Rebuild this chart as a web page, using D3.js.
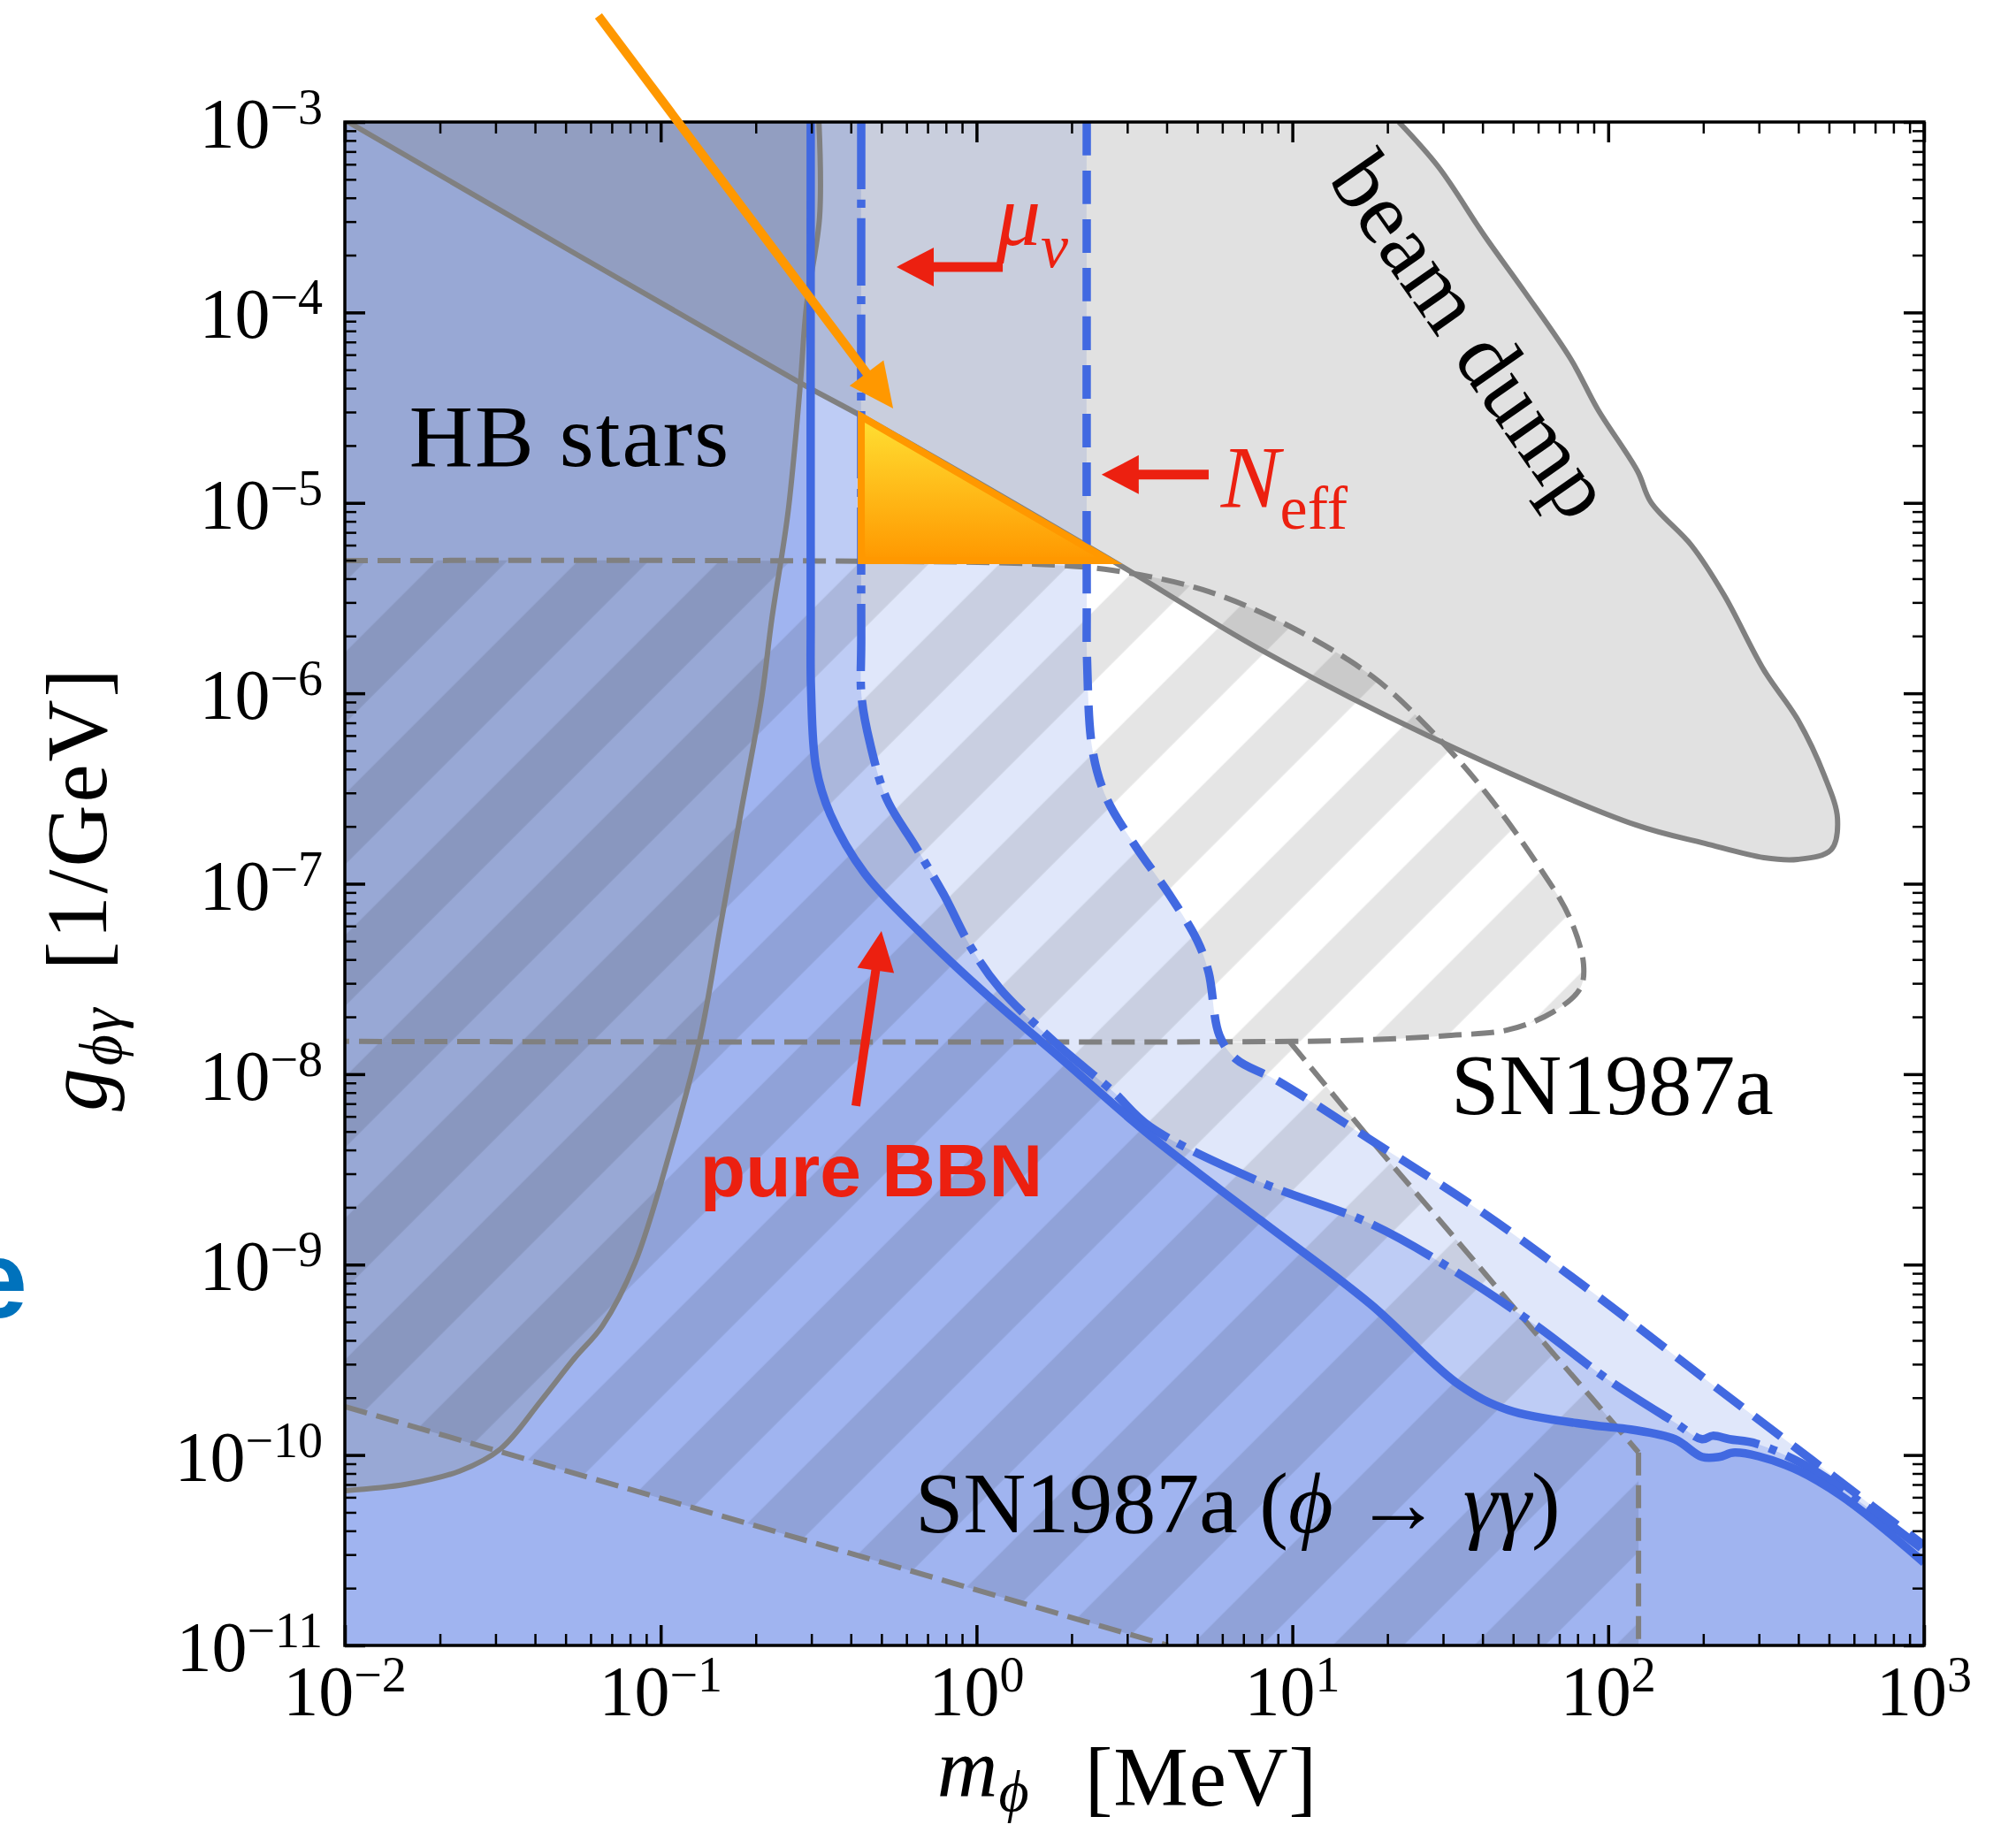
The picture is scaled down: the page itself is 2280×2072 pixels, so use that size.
<!DOCTYPE html>
<html>
<head>
<meta charset="utf-8">
<script src="https://cdn.jsdelivr.net/npm/d3@7"></script>
<style>
  body { margin: 0; background: #fff; }
  svg { display: block; }
  text { font-family: "Liberation Serif", "Times New Roman", serif; }
</style>
</head>
<body>
<svg id="chart" width="2280" height="2072"></svg>
<script>
// all curves are [log10(m / MeV), log10(g / GeV^-1)]
var bbnPure = [[-0.525,-3.0],[-0.525,-5.6],[-0.524,-5.976],[-0.508,-6.389],[-0.463,-6.635],[-0.354,-6.946],[-0.177,-7.257],
  [0.038,-7.591],[0.270,-7.921],[0.548,-8.320],[0.898,-8.766],[1.247,-9.207],[1.527,-9.630],[1.684,-9.764],
  [1.947,-9.843],[2.071,-9.866],[2.211,-9.917],[2.297,-10.010],[2.351,-10.010],[2.401,-9.987],[2.561,-10.052],
  [2.734,-10.210],[3.0,-10.565]];
var bbnMuNu = [[-0.365,-3.0],[-0.365,-5.7],[-0.364,-6.018],[-0.337,-6.264],[-0.284,-6.556],[-0.194,-6.802],[-0.105,-7.053],
  [-0.015,-7.341],[0.074,-7.550],[0.251,-7.837],[0.430,-8.088],[0.548,-8.274],[0.898,-8.566],[1.247,-8.785],
  [1.511,-9.031],[1.771,-9.319],[2.001,-9.606],[2.211,-9.829],[2.297,-9.917],[2.331,-9.899],[2.384,-9.917],
  [2.471,-9.941],[2.647,-10.075],[2.821,-10.275],[3.0,-10.50]];
var bbnNeff = [[0.349,-3.0],[0.349,-5.5],[0.350,-5.827],[0.368,-6.306],[0.413,-6.556],[0.503,-6.802],[0.609,-7.053],
  [0.699,-7.299],[0.735,-7.466],[0.769,-7.796],[0.822,-7.921],[0.951,-8.033],[1.247,-8.344],[1.597,-8.720],
  [1.947,-9.142],[2.297,-9.588],[2.647,-10.029],[3.0,-10.475]];
var beamDump = [[-2.0,-2.99],[-0.558,-4.370],[-0.362,-4.546],[0.419,-5.293],[0.895,-5.767],[1.429,-6.222],
  [2.087,-6.691],[2.306,-6.788],[2.493,-6.863],[2.600,-6.872],[2.706,-6.821],[2.726,-6.658],[2.684,-6.431],
  [2.600,-6.138],[2.493,-5.878],[2.367,-5.484],[2.264,-5.224],[2.135,-4.996],[2.093,-4.834],[1.967,-4.509],
  [1.883,-4.249],[1.735,-3.891],[1.609,-3.599],[1.463,-3.237],[1.337,-3.0]];
var hbStars = [[-0.499,-3.0],[-0.497,-3.501],[-0.539,-3.975],[-0.558,-4.379],[-0.597,-5.052],[-0.648,-5.609],
  [-0.681,-6.032],[-0.746,-6.626],[-0.810,-7.215],[-0.875,-7.810],[-0.970,-8.404],[-1.082,-8.994],
  [-1.185,-9.323],[-1.272,-9.490],[-1.378,-9.713],[-1.507,-9.968],[-1.636,-10.084],[-1.807,-10.154],[-2.0,-10.187]];
var snCooling = [[-2.0,-5.303],[-0.5,-5.305],[0.181,-5.321],[0.430,-5.354],[0.716,-5.456],[0.984,-5.642],
  [1.253,-5.911],[1.430,-6.180],[1.609,-6.514],[1.788,-6.928],[1.877,-7.174],[1.922,-7.424],[1.911,-7.550],
  [1.824,-7.675],[1.681,-7.768],[1.502,-7.796],[1.250,-7.819],[1.001,-7.828],[-2.0,-7.828]];
var snDecayEdge = [[0.993,-7.833],[1.248,-8.344],[1.511,-8.854],[1.737,-9.295],[1.947,-9.699],[2.096,-9.987]];
var snDecayCut = [[2.096,-9.987],[2.096,-11.0]];
var snDecayLow = [[-2.0,-9.746],[0.606,-11.0]];
var hotSpot = [[-0.365,-4.546],[0.42,-5.303],[-0.365,-5.303]];

var xTicks = [-2, -1, 0, 1, 2, 3];
var yTicks = [-3, -4, -5, -6, -7, -8, -9, -10, -11];

var pL = 390, pR = 2176, pT = 138, pB = 1861;
var BLUE = '#4169e1', GREY = '#808080', RED = '#ec2010', ORANGE = '#ff9800';
var SANS = '"Liberation Sans", Arial, sans-serif';

var svg = d3.select('#chart');
var x = d3.scaleLog().domain([1e-2, 1e3]).range([pL, pR]);
var y = d3.scaleLog().domain([1e-11, 1e-3]).range([pB, pT]);
var px = function(d){ return x(Math.pow(10, d[0])); };
var py = function(d){ return y(Math.pow(10, d[1])); };

var smooth = d3.line().x(px).y(py).curve(d3.curveCatmullRom.alpha(0.5));
var straight = d3.line().x(px).y(py);
var corners = function(list){
  return list.map(function(c){ return 'L' + px(c) + ',' + py(c); }).join('');
};

var defs = svg.append('defs');
defs.append('clipPath').attr('id', 'plotclip')
  .append('rect').attr('x', pL).attr('y', pT).attr('width', pR - pL).attr('height', pB - pT);

var pat = defs.append('pattern').attr('id', 'hatch')
  .attr('patternUnits', 'userSpaceOnUse')
  .attr('width', 113.14).attr('height', 113.14)
  .attr('patternTransform', 'rotate(45)');
pat.append('rect').attr('x', 5.7).attr('y', 0).attr('width', 56.57).attr('height', 113.14)
  .attr('fill', '#000').attr('fill-opacity', 0.1);

var grad = defs.append('linearGradient').attr('id', 'hot')
  .attr('gradientUnits', 'userSpaceOnUse')
  .attr('x1', 0).attr('x2', 0).attr('y1', py(hotSpot[0])).attr('y2', py(hotSpot[2]));
grad.append('stop').attr('offset', '0%').attr('stop-color', '#ffe033');
grad.append('stop').attr('offset', '100%').attr('stop-color', '#ff9800');

var plot = svg.append('g').attr('clip-path', 'url(#plotclip)');

// blue BBN regions, stacked
var lowerLeft = [[3.2, -11.2], [-2.2, -11.2], [-2.2, -3]];
[[bbnNeff, 0.16], [bbnMuNu, 0.21], [bbnPure, 0.24]].forEach(function(r){
  plot.append('path')
    .attr('d', smooth(r[0]) + corners([[3.2, r[0][r[0].length - 1][1] - 0.05]].concat(lowerLeft)) + 'Z')
    .attr('fill', BLUE).attr('fill-opacity', r[1]);
});

// beam dump and HB stars
plot.append('path').attr('d', smooth(beamDump) + corners([[1.337, -2.9], [-2.1, -2.9]]) + 'Z')
  .attr('fill', GREY).attr('fill-opacity', 0.24);
plot.append('path').attr('d', smooth(hbStars) + corners([[-2.1, -10.187], [-2.1, -2.9], [-0.499, -2.9]]) + 'Z')
  .attr('fill', GREY).attr('fill-opacity', 0.24);

// SN1987a hatched regions
plot.append('path').attr('d', smooth(snCooling) + 'Z').attr('fill', 'url(#hatch)');
plot.append('path')
  .attr('d', smooth(snDecayEdge) + corners([[2.096, -11.0], [0.606, -11.0], [-2.0, -9.746], [-2.0, -7.828], [0.993, -7.833]]) + 'Z')
  .attr('fill', 'url(#hatch)');

// grey outlines
plot.append('path').attr('d', smooth(beamDump)).attr('fill', 'none')
  .attr('stroke', GREY).attr('stroke-width', 6);
plot.append('path').attr('d', smooth(hbStars)).attr('fill', 'none')
  .attr('stroke', GREY).attr('stroke-width', 6);
[smooth(snCooling), smooth(snDecayEdge), straight(snDecayCut), straight(snDecayLow)].forEach(function(d){
  plot.append('path').attr('d', d).attr('fill', 'none')
    .attr('stroke', GREY).attr('stroke-width', 6).attr('stroke-dasharray', '26,11');
});

// blue lines
plot.append('path').attr('d', smooth(bbnNeff)).attr('fill', 'none')
  .attr('stroke', BLUE).attr('stroke-width', 9.5).attr('stroke-dasharray', '38,17');
plot.append('path').attr('d', smooth(bbnMuNu)).attr('fill', 'none')
  .attr('stroke', BLUE).attr('stroke-width', 9.5).attr('stroke-dasharray', '76,12,9,12');
plot.append('path').attr('d', smooth(bbnPure)).attr('fill', 'none')
  .attr('stroke', BLUE).attr('stroke-width', 9.5);

// allowed triangle
plot.append('path').attr('d', straight(hotSpot) + 'Z')
  .attr('fill', 'url(#hot)').attr('stroke', ORANGE).attr('stroke-width', 8).attr('stroke-linejoin', 'miter');

// frame and ticks
function tickRow(axis, tx, ty, vals, size, width){
  var g = svg.append('g').attr('transform', 'translate(' + tx + ',' + ty + ')')
    .call(axis.tickValues(vals).tickSize(-size).tickSizeOuter(0).tickFormat(''));
  g.select('.domain').remove();
  g.selectAll('line').attr('stroke', '#000').attr('stroke-width', width);
}
var majorX = xTicks.map(function(e){ return Math.pow(10, e); });
var majorY = yTicks.map(function(e){ return Math.pow(10, e); });
var minorX = [], minorY = [];
for (var e = -2; e < 3; e++) for (var k = 2; k < 10; k++) minorX.push(k * Math.pow(10, e));
for (var e = -11; e < -3; e++) for (var k = 2; k < 10; k++) minorY.push(k * Math.pow(10, e));
[[d3.axisBottom(x), 0, pB], [d3.axisTop(x), 0, pT]].forEach(function(a){
  tickRow(a[0], a[1], a[2], majorX, 23, 3.5);
  tickRow(a[0], a[1], a[2], minorX, 13, 2.5);
});
[[d3.axisLeft(y), pL, 0], [d3.axisRight(y), pR, 0]].forEach(function(a){
  tickRow(a[0], a[1], a[2], majorY, 23, 3.5);
  tickRow(a[0], a[1], a[2], minorY, 13, 2.5);
});
svg.append('rect').attr('x', pL).attr('y', pT).attr('width', pR - pL).attr('height', pB - pT)
  .attr('fill', 'none').attr('stroke', '#000').attr('stroke-width', 3.5);

// tick labels
var sup = function(e){ return (e < 0 ? '\u2212' : '') + Math.abs(e); };
yTicks.forEach(function(e){
  var t = svg.append('text').attr('x', 365).attr('y', y(Math.pow(10, e)) + 29)
    .attr('text-anchor', 'end').attr('font-size', 80);
  t.append('tspan').text('10');
  t.append('tspan').attr('font-size', 56).attr('dy', -27).text(sup(e));
});
xTicks.forEach(function(e){
  var t = svg.append('text').attr('x', x(Math.pow(10, e))).attr('y', 1940)
    .attr('text-anchor', 'middle').attr('font-size', 80);
  t.append('tspan').text('10');
  t.append('tspan').attr('font-size', 56).attr('dy', -27).text(sup(e));
});

// axis labels
var xl = svg.append('text').attr('x', (pL + pR) / 2 - 8).attr('y', 2032)
  .attr('text-anchor', 'middle').attr('font-size', 95).style('letter-spacing', '1px');
xl.append('tspan').attr('font-style', 'italic').text('m');
xl.append('tspan').attr('font-style', 'italic').attr('font-size', 66).attr('dy', 16).text('\u03d5');
xl.append('tspan').attr('dx', 62).attr('dy', -6).text('[MeV]');

var yl = svg.append('text').attr('transform', 'translate(120,1005) rotate(-90)')
  .attr('text-anchor', 'middle').attr('font-size', 97).style('letter-spacing', '3px');
yl.append('tspan').attr('font-style', 'italic').text('g');
yl.append('tspan').attr('font-style', 'italic').attr('font-size', 68).attr('dy', 17).text('\u03d5\u03b3');
yl.append('tspan').attr('dx', 40).attr('dy', -17).text('[1/GeV]');

// region labels
svg.append('text').attr('x', px([-1.796, 0])).attr('y', py([0, -4.806]))
  .attr('font-size', 100).style('letter-spacing', '2px').text('HB stars');
svg.append('text').attr('transform', 'translate(' + px([1.569, 0]) + ',' + py([0, -4.123]) + ') rotate(55)')
  .attr('text-anchor', 'middle').attr('dy', '0.33em').attr('font-size', 100).style('letter-spacing', '1px')
  .text('beam dump');
svg.append('text').attr('x', px([1.502, 0])).attr('y', py([0, -8.209]))
  .attr('font-size', 98).text('SN1987a');
var sd = svg.append('text').attr('x', px([-0.194, 0])).attr('y', py([0, -10.405])).attr('font-size', 98);
sd.append('tspan').text('SN1987a (');
sd.append('tspan').attr('font-style', 'italic').text('\u03d5');
sd.append('tspan').text(' \u2192 ');
sd.append('tspan').attr('font-style', 'italic').text('\u03b3\u03b3');
sd.append('tspan').text(')');

var mu = svg.append('text').attr('x', px([0.063, 0])).attr('y', py([0, -3.645]))
  .attr('font-size', 100).attr('fill', RED).attr('font-style', 'italic');
mu.append('tspan').text('\u03bc');
mu.append('tspan').attr('font-size', 70).attr('dy', 25).text('\u03bd');
var ne = svg.append('text').attr('x', px([0.774, 0])).attr('y', py([0, -5.019]))
  .attr('font-size', 100).attr('fill', RED);
ne.append('tspan').attr('font-style', 'italic').text('N');
ne.append('tspan').attr('font-size', 70).attr('dy', 25).text('eff');
svg.append('text').attr('x', px([-0.875, 0])).attr('y', py([0, -8.641]))
  .style('font-family', SANS).attr('font-weight', 'bold')
  .attr('font-size', 84).attr('fill', RED).text('pure BBN');

// arrows
function arrow(from, to, color, width, headLen, headHalf){
  var x1 = px(from), y1 = py(from), x2 = px(to), y2 = py(to);
  var dx = x2 - x1, dy = y2 - y1, len = Math.sqrt(dx * dx + dy * dy);
  var ux = dx / len, uy = dy / len;
  var bx = x2 - ux * headLen, by = y2 - uy * headLen;
  svg.append('line').attr('x1', x1).attr('y1', y1).attr('x2', bx + ux * 2).attr('y2', by + uy * 2)
    .attr('stroke', color).attr('stroke-width', width);
  svg.append('polygon')
    .attr('points', [[x2, y2], [bx - uy * headHalf, by + ux * headHalf], [bx + uy * headHalf, by - ux * headHalf]].join(' '))
    .attr('fill', color);
}
arrow([-1.197, -2.443], [-0.264, -4.504], ORANGE, 10, 50, 24);
arrow([0.083, -3.761], [-0.253, -3.761], RED, 11, 42, 22);
arrow([0.735, -4.852], [0.396, -4.852], RED, 11, 42, 22);
arrow([-0.382, -8.167], [-0.301, -7.248], RED, 10, 45, 21);

// stray letter from the slide at the left edge
svg.append('text').attr('x', 31).attr('y', 1490).attr('text-anchor', 'end')
  .style('font-family', SANS).attr('font-weight', 'bold')
  .attr('font-size', 125).attr('fill', '#0072bc').text('e');
</script>
</body>
</html>
